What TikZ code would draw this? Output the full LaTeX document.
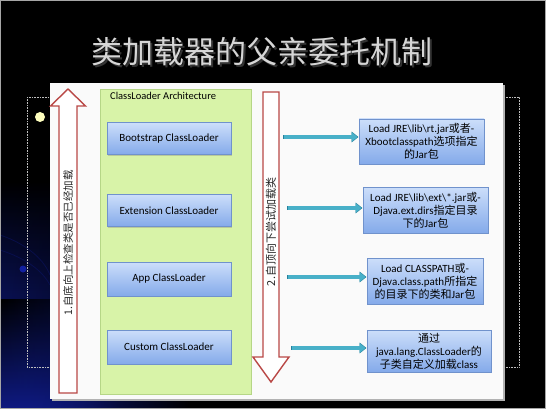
\documentclass[tikz,border=0pt]{standalone}
\usepackage{fontspec}
\setmainfont{Carlito}
\newfontfamily\cjk{Noto Sans CJK SC}
\newcommand{\zhs}[1]{{\cjk #1}}
\usetikzlibrary{arrows.meta,shadows,fadings}
\definecolor{arrowred}{RGB}{185,72,70}
\definecolor{greenfill}{RGB}{216,243,168}
\definecolor{greenline}{RGB}{182,214,135}
\definecolor{boxtop}{RGB}{204,222,250}
\definecolor{boxbot}{RGB}{132,170,234}
\definecolor{boxline}{RGB}{112,146,204}
\definecolor{teal}{RGB}{72,176,200}
\definecolor{tealdark}{RGB}{38,128,156}
\definecolor{titlegray}{RGB}{214,214,214}
\definecolor{deepblue}{RGB}{18,32,160}
\definecolor{bulletyellow}{RGB}{255,255,190}
\tikzset{
  loaderbox/.style={draw=boxline, line width=0.6pt, top color=boxtop, bottom color=boxbot,
    minimum width=124pt, minimum height=32pt, inner sep=0pt,
    font=\fontsize{11}{13}\selectfont, text=black,
    drop shadow={shadow xshift=1pt, shadow yshift=-1.2pt, opacity=0.35}},
  notebox/.style={draw=boxline, line width=0.6pt, top color=boxtop, bottom color=boxbot,
    inner sep=0pt, align=center, font=\fontsize{11}{13}\selectfont, text=black,
    drop shadow={shadow xshift=1pt, shadow yshift=-1.2pt, opacity=0.35}},
  hollowarrow/.style={draw=arrowred, line width=1.4pt, fill=white, line join=miter},
  feedarrow/.style={draw=teal, line width=3.2pt, -{Triangle[length=6pt,width=9pt]}},
  feedshade/.style={draw=tealdark, line width=4.4pt, -{Triangle[length=7pt,width=10.5pt]}},
  vtext/.style={rotate=90, font=\cjk\fontsize{10.5}{12}\selectfont, text=black!85, inner sep=0pt},
}
\begin{document}
\begin{tikzpicture}[x=1pt,y=-1pt]
\useasboundingbox (0,0) rectangle (546,409);
% background
\fill[black] (0,0) rectangle (546,409);
\shade[top color=black, bottom color=deepblue, path fading=east] (0,180) rectangle (190,409);
\shade[top color=black, bottom color=deepblue!80!black, path fading=east] (0,300) rectangle (120,409);
\draw[deepblue!60!black, line width=0.8pt, opacity=0.6] (0,235) .. controls (30,245) and (45,262) .. (50,275);
\draw[deepblue!60!black, line width=0.8pt, opacity=0.6] (0,250) .. controls (25,258) and (42,270) .. (50,285);
\fill[deepblue] (23,269) circle (3.5);
\draw[gray!70, line width=1pt] (0.5,0.5) rectangle (545.5,408.5);
% title
\node[font=\cjk\fontsize{31}{34}\selectfont, text=black!60!gray] (titleshadow) at (263.5,53.5) {类加载器的父亲委托机制};
\node[font=\cjk\fontsize{31}{34}\selectfont, text=titlegray] (title) at (262,52) {类加载器的父亲委托机制};
% dotted frame and bullet
\draw[white!75!black, densely dotted, line width=0.6pt] (27,97) rectangle (519,367);
\fill[bulletyellow] (40,117) circle (5);
% white panel
\fill[gray!60] (52,85) rectangle (505,401);
\fill[white!98!black] (50,83) rectangle (503,399);
% green architecture panel
\node[draw=greenline, line width=0.6pt, fill=greenfill, minimum width=151pt, minimum height=305pt, inner sep=0pt,
  drop shadow={shadow xshift=1pt, shadow yshift=-1pt, opacity=0.25}] (arch) at (175.5,241.5) {};
\node[anchor=north west, font=\fontsize{10.5}{12}\selectfont, text=black, inner sep=0pt] (archlabel) at (110,92) {ClassLoader Architecture};
% loaders
\node[loaderbox] (boot) at (169,138.5) {Bootstrap ClassLoader};
\node[loaderbox] (ext) at (169,210.5) {Extension ClassLoader};
\node[loaderbox, minimum height=34pt] (app) at (169,279) {App ClassLoader};
\node[loaderbox, minimum height=34pt] (cust) at (169,347) {Custom ClassLoader};
% hollow up arrow
\draw[hollowarrow] (68,89) -- (85.5,106) -- (77,106) -- (77,393) -- (59,393) -- (59,106) -- (50.5,106) -- cycle;
\node[vtext] (uptext) at (68,243) {1.自底向上检查类是否已经加载};
% hollow down arrow
\draw[hollowarrow] (263,92) -- (279,92) -- (279,357) -- (289,357) -- (271,382) -- (253,357) -- (263,357) -- cycle;
\node[vtext, font=\cjk\fontsize{11}{12}\selectfont] (downtext) at (271,232) {2.自顶向下尝试加载类};
% note boxes
\node[notebox, minimum width=125pt, minimum height=45pt] (n1) at (421.5,141.5)
  {Load JRE\textbackslash lib\textbackslash rt.jar\zhs{或者}-\\Xbootclasspath\zhs{选项指定}\\\zhs{的}Jar\zhs{包}};
\node[notebox, minimum width=125pt, minimum height=46pt] (n2) at (425.5,210)
  {Load JRE\textbackslash lib\textbackslash ext\textbackslash *.jar\zhs{或}-\\Djava.ext.dirs\zhs{指定目录}\\\zhs{下的}Jar\zhs{包}};
\node[notebox, minimum width=116pt, minimum height=46pt] (n3) at (425,281)
  {Load CLASSPATH\zhs{或}-\\Djava.class.path\zhs{所指定}\\\zhs{的目录下的类和}Jar\zhs{包}};
\node[notebox, minimum width=124pt, minimum height=42pt] (n4) at (429,351)
  {\zhs{通过}\\java.lang.ClassLoader\zhs{的}\\\zhs{子类自定义加载}class};
% feed arrows
\coordinate (s1) at (283,137);
\coordinate (s2) at (287,208);
\coordinate (s3) at (287,277);
\coordinate (s4) at (291,348);
\foreach \s/\n in {s1/n1,s2/n2,s3/n3,s4/n4}{
  \draw[feedshade, shorten >=0.2pt] (\s) -- (\s -| \n.west);
  \draw[feedarrow, shorten >=1pt] ([xshift=0.6pt]\s) -- (\s -| \n.west);
}
\end{tikzpicture}
\end{document}
